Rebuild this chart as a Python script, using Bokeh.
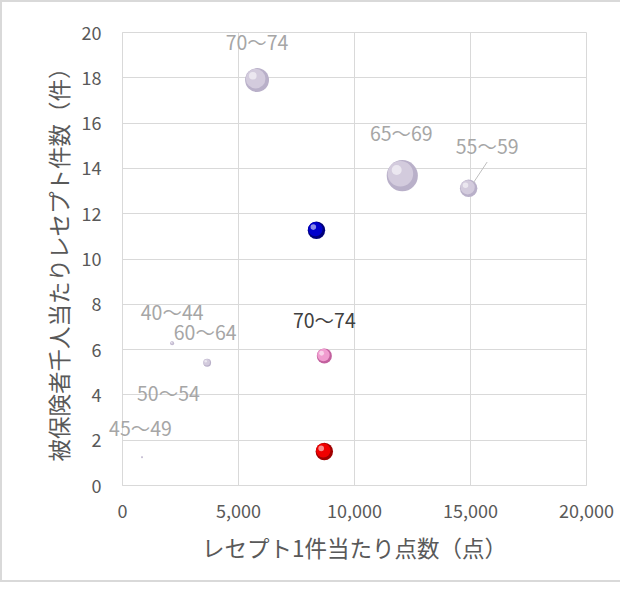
from bokeh.plotting import figure
from bokeh.models import Range1d, FixedTicker, NumeralTickFormatter, ColumnDataSource, LabelSet
from bokeh.core.properties import value
from bokeh.embed import file_html
from bokeh.resources import INLINE
try:
    from bokeh.models import HTMLLabelSet as EdgeLabelSet
except ImportError:
    from bokeh.models import LabelSet as EdgeLabelSet

# ---- data ----
age_labels = ["40～44", "45～49", "50～54", "55～59", "60～64", "65～69", "70～74"]
age_points = [2140, 840, 1980, 14920, 3650, 12060, 5800]        # レセプト1件当たり点数
age_counts = [6.28, 1.25, 2.75, 13.12, 5.42, 13.68, 17.9]        # 千人当たりレセプト件数
age_bubble = [0.16, 0.04, 0.01, 3.2, 0.64, 10.2, 6.0]

blue_points, blue_counts, blue_bubble = [8360], [11.27], [3.2]
pink_points, pink_counts, pink_bubble, pink_labels = [8700], [5.72], [2.4], ["70～74"]
red_points, red_counts, red_bubble = [8700], [1.5], [3.2]

x_ticks = [0, 5000, 10000, 15000, 20000]
y_ticks = [0, 2, 4, 6, 8, 10, 12, 14, 16, 18, 20]

# ---- layout ----
FONT = "Noto Sans CJK JP"
W, H = 620, 582
ML, MT, MR, MB = 120, 30, 36, 99
FW, FH = W - ML - MR, H - MT - MB
XMAX, YMAX = 20000, 20
PX_X = XMAX / FW
PX_Y = YMAX / FH

p = figure(width=W, height=H, output_backend="svg", toolbar_location=None,
           x_range=Range1d(0, XMAX), y_range=Range1d(0, YMAX),
           min_border_left=ML, min_border_right=MR, min_border_top=MT, min_border_bottom=MB)
p.styles = {"border-left": "2px solid #d9d9d9", "border-top": "2px solid #d9d9d9",
            "border-bottom": "2px solid #d9d9d9"}
p.background_fill_color = "white"
p.border_fill_color = "white"
p.outline_line_color = "#d9d9d9"
p.outline_line_width = 1

for ax in (p.xaxis[0], p.yaxis[0]):
    ax.major_tick_in = 0
    ax.major_tick_out = 0
    ax.minor_tick_line_color = None
    ax.axis_line_color = "#d9d9d9"
    ax.major_label_text_font = FONT
    ax.major_label_text_font_size = "18px"
    ax.major_label_text_color = "#595959"
    ax.axis_label_text_font = FONT
    ax.axis_label_text_font_size = "22.5px"
    ax.axis_label_text_font_style = "normal"
    ax.axis_label_text_color = "#595959"

p.xaxis.ticker = FixedTicker(ticks=x_ticks)
p.yaxis.ticker = FixedTicker(ticks=y_ticks)
p.xaxis.formatter = NumeralTickFormatter(format="0,0")
p.xaxis.major_label_standoff = 18
p.yaxis.major_label_standoff = 21
p.xaxis.axis_label = "レセプト1件当たり点数（点）"
p.yaxis.axis_label = "被保険者千人当たりレセプト件数（件）"
p.xaxis.axis_label_standoff = 10
p.yaxis.axis_label_standoff = 5
p.xgrid.grid_line_color = "#d9d9d9"
p.ygrid.grid_line_color = "#d9d9d9"


def diam(b):
    return [9.75 * (v ** 0.5) for v in b]


def bubbles(xs, ys, bs, rim, mid):
    d = diam(bs)
    p.scatter(xs, ys, size=d, fill_color=rim, line_color=None)
    xs1 = [x - 0.06 * s * PX_X for x, s in zip(xs, d)]
    ys1 = [y + 0.06 * s * PX_Y for y, s in zip(ys, d)]
    p.scatter(xs1, ys1, size=[s * 0.82 for s in d], fill_color=mid, line_color=None)
    xs2 = [x - 0.18 * s * PX_X for x, s in zip(xs, d)]
    ys2 = [y + 0.18 * s * PX_Y for y, s in zip(ys, d)]
    p.scatter(xs2, ys2, size=[s * 0.32 for s in d], fill_color="white", fill_alpha=0.55,
              line_color=None)


bubbles(age_points, age_counts, age_bubble, "#b9b0c9", "#d3cbdd")
bubbles(blue_points, blue_counts, blue_bubble, "#00007a", "#0000cc")
bubbles(pink_points, pink_counts, pink_bubble, "#c2609e", "#f09ccf")
bubbles(red_points, red_counts, red_bubble, "#a00000", "#f00000")

# label offsets in pixels (dx, dy upward)
age_label_off = [(0, 32), (-1, 30), (0, 31), (18.5, 43), (-2, 31), (-1, 43), (0, 39)]
# the 45～49 label reaches past the plot frame, so it is drawn as an unclipped HTML label
edge = [lab == "45～49" for lab in age_labels]


def label_src(mask):
    idx = [k for k, m in enumerate(mask) if m]
    return ColumnDataSource(dict(x=[age_points[k] for k in idx], y=[age_counts[k] for k in idx],
                                 t=[age_labels[k] for k in idx],
                                 dx=[age_label_off[k][0] for k in idx],
                                 dy=[age_label_off[k][1] for k in idx]))


label_style = dict(text_font=value(FONT), text_font_size="19.5px", text_color="#a6a6a6",
                   text_align="center", text_baseline="middle")
p.add_layout(LabelSet(x="x", y="y", text="t", source=label_src([not e for e in edge]),
                      x_offset="dx", y_offset="dy", **label_style))
p.add_layout(EdgeLabelSet(x="x", y="y", text="t", source=label_src(edge),
                          x_offset="dx", y_offset="dy", **label_style))

pink_src = ColumnDataSource(dict(x=pink_points, y=pink_counts, t=pink_labels))
p.add_layout(LabelSet(x="x", y="y", text="t", source=pink_src, x_offset=0, y_offset=36,
                      text_font=value(FONT), text_font_size="19.5px", text_color="#404040",
                      text_align="center", text_baseline="middle"))

# leader line for 55～59
i = age_labels.index("55～59")
p.segment(x0=[age_points[i] + 18.5 * PX_X], y0=[age_counts[i] + 26.3 * PX_Y],
          x1=[age_points[i] + 4.9 * PX_X], y1=[age_counts[i] + 5.8 * PX_Y],
          line_color="#bfbfbf", line_width=1)

open("out.html", "w").write(file_html(p, INLINE))
